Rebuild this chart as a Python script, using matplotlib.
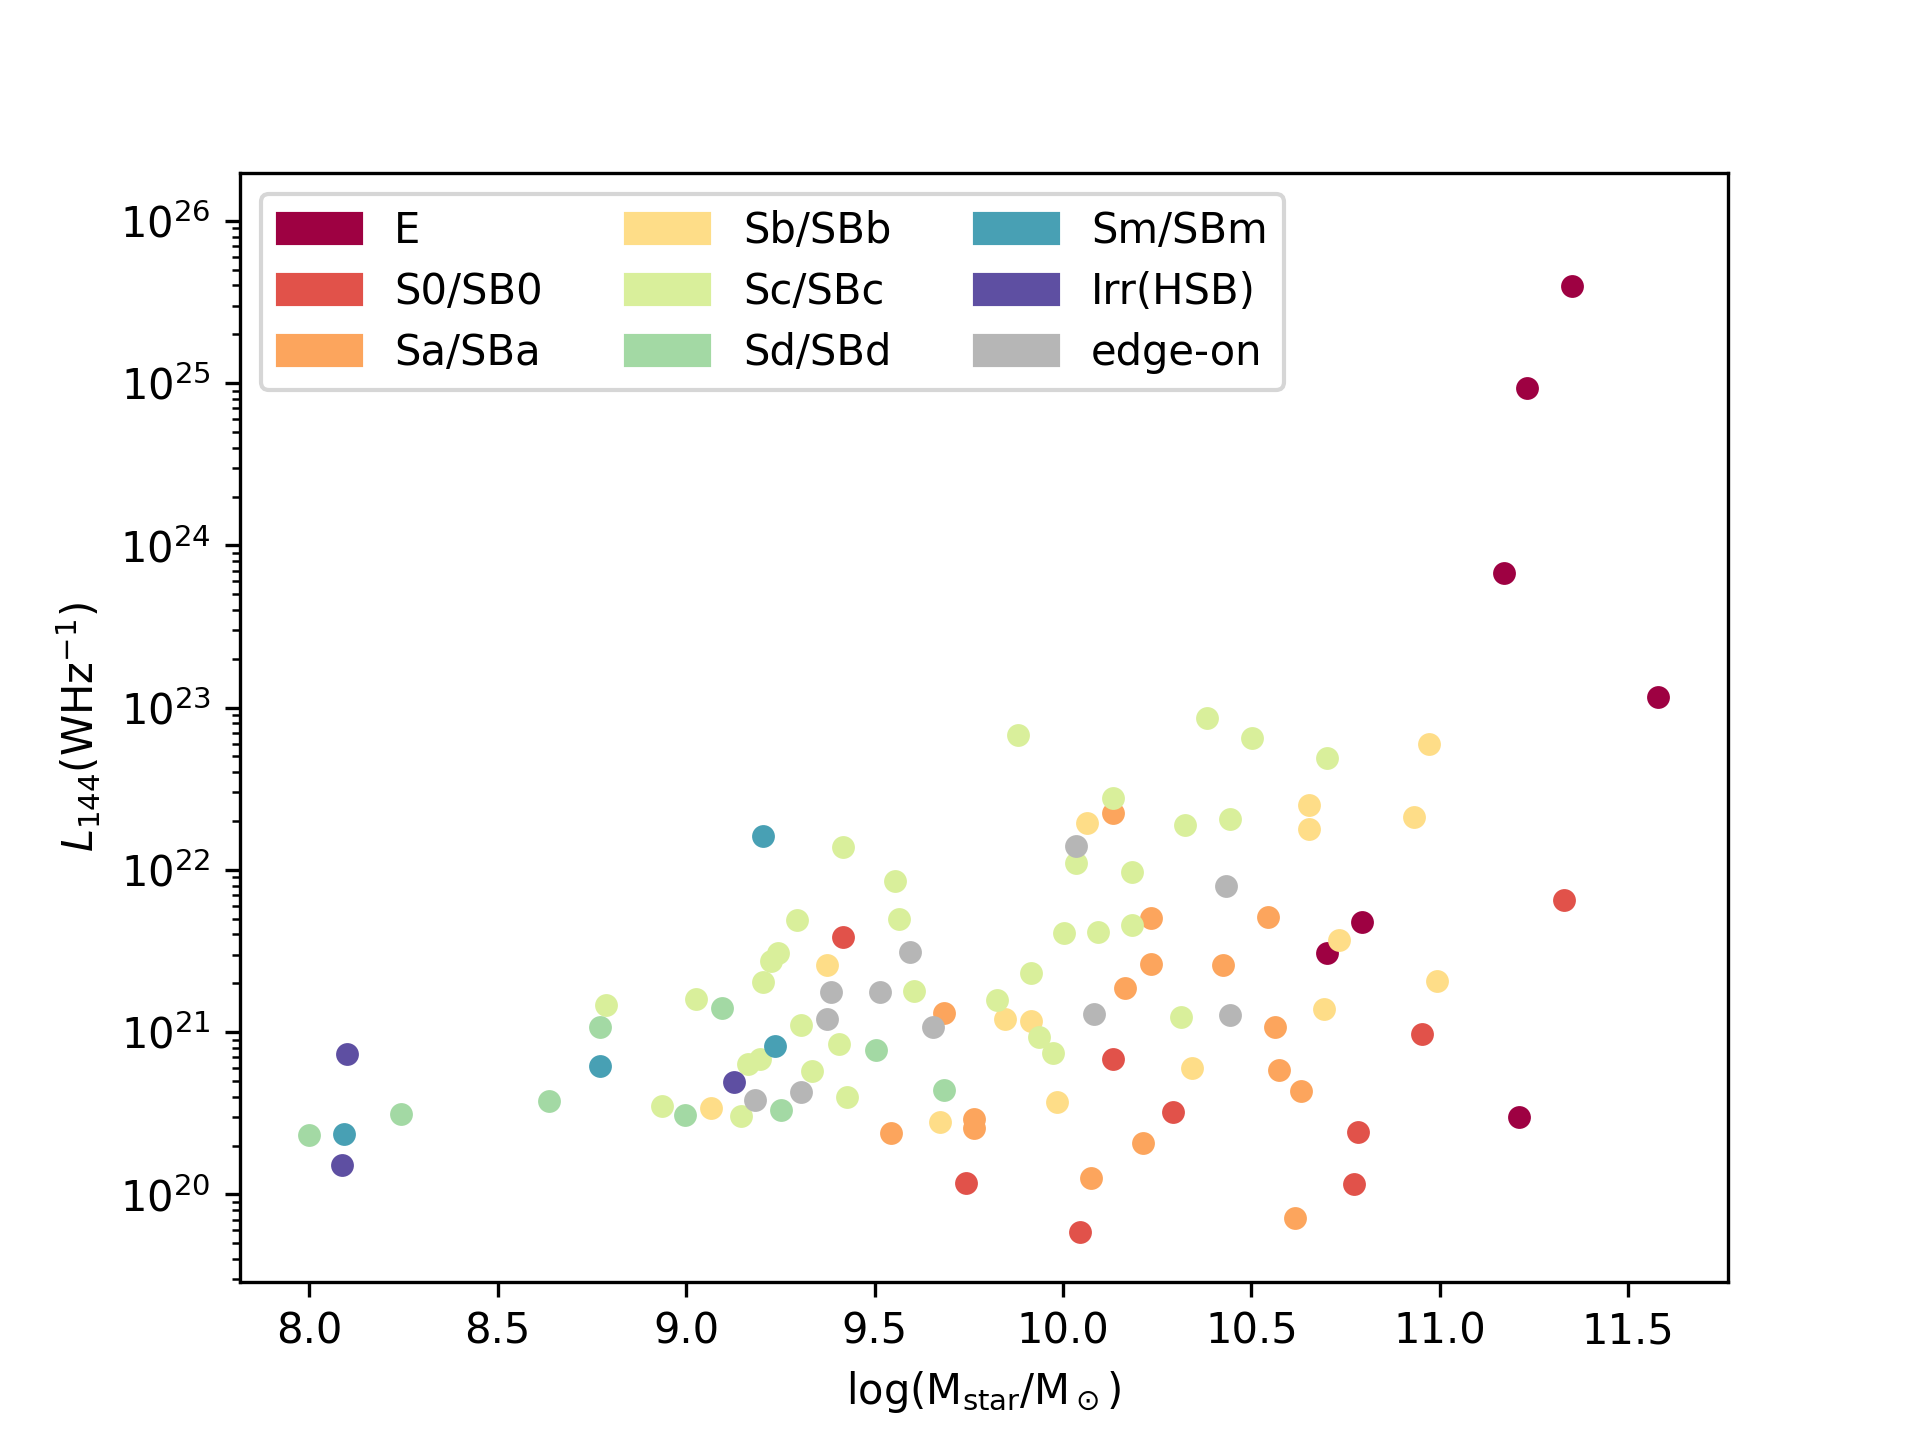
import matplotlib
matplotlib.use("Agg")
import matplotlib.pyplot as plt
from matplotlib.patches import Patch

categories = ["E", "S0/SB0", "Sa/SBa", "Sb/SBb", "Sc/SBc", "Sd/SBd", "Sm/SBm", "Irr(HSB)", "edge-on"]
colors = ["#9e0142", "#e1524a", "#fca55d", "#fedd88", "#d9ef9b", "#a3d9a4", "#48a0b4", "#5e4fa2", "#b6b6b6"]

E_x = [11.350, 11.231, 11.170, 11.580, 10.793, 10.702, 11.211]
E_y = [3.97e25, 9.38e24, 6.79e23, 1.16e23, 4.8e21, 3.09e21, 2.99e20]

S0_x = [9.415, 9.743, 10.134, 10.293, 10.782, 10.773, 10.044, 11.331, 10.952]
S0_y = [3.86e21, 1.18e20, 6.79e20, 3.2e20, 2.43e20, 1.16e20, 5.83e19, 6.49e21, 9.68e20]

Sa_x = [9.684, 9.765, 9.765, 9.545, 10.134, 10.234, 10.543, 10.234, 10.424, 10.164,
        10.563, 10.573, 10.632, 10.213, 10.074, 10.617]
Sa_y = [1.31e21, 2.9e20, 2.56e20, 2.39e20, 2.23e22, 5.06e21, 5.13e21, 2.64e21, 2.6e21, 1.88e21,
        1.08e21, 5.83e20, 4.33e20, 2.07e20, 1.27e20, 7.11e19]

Sb_x = [9.065, 9.374, 9.675, 10.063, 10.652, 10.652, 10.733, 9.845, 9.915, 10.692,
        10.343, 9.984, 10.932, 10.992, 10.971]
Sb_y = [3.42e20, 2.61e21, 2.79e20, 1.95e22, 2.52e22, 1.78e22, 3.72e21, 1.2e21, 1.17e21, 1.39e21,
        5.98e20, 3.72e20, 2.11e22, 2.07e21, 5.96e22]

Sc_x = [8.786, 8.935, 9.145, 9.427, 9.335, 9.164, 9.195, 9.304, 9.405, 9.604,
        9.205, 9.226, 9.245, 9.295, 9.025, 9.555, 9.564, 9.415, 10.134, 10.034,
        10.323, 10.443, 10.183, 10.004, 10.094, 10.183, 9.915, 9.824, 9.937, 9.974,
        10.313, 9.882, 10.382, 10.503, 10.702]
Sc_y = [1.47e21, 3.53e20, 3.03e20, 3.98e20, 5.8e20, 6.4e20, 6.83e20, 1.1e21, 8.5e20, 1.8e21,
        2.03e21, 2.76e21, 3.07e21, 4.89e21, 1.6e21, 8.57e21, 4.97e21, 1.39e22, 2.76e22, 1.1e22,
        1.88e22, 2.06e22, 9.76e21, 4.1e21, 4.16e21, 4.59e21, 2.31e21, 1.57e21, 9.33e20, 7.46e20,
        1.24e21, 6.78e22, 8.65e22, 6.52e22, 4.89e22]

Sd_x = [8.0, 8.243, 8.636, 8.772, 8.996, 9.252, 9.505, 9.096, 9.684]
Sd_y = [2.32e20, 3.12e20, 3.77e20, 1.08e21, 3.08e20, 3.31e20, 7.74e20, 1.4e21, 4.4e20]

Sm_x = [8.091, 8.772, 9.235, 9.205]
Sm_y = [2.37e20, 6.2e20, 8.17e20, 1.62e22]

Irr_x = [8.099, 8.088, 9.126]
Irr_y = [7.35e20, 1.52e20, 4.95e20]

edge_x = [9.182, 9.304, 9.374, 9.384, 9.514, 9.594, 9.655, 10.034, 10.433, 10.083, 10.443]
edge_y = [3.84e20, 4.26e20, 1.2e21, 1.78e21, 1.78e21, 3.14e21, 1.08e21, 1.4e22, 8.0e21, 1.3e21, 1.28e21]

xs = [E_x, S0_x, Sa_x, Sb_x, Sc_x, Sd_x, Sm_x, Irr_x, edge_x]
ys = [E_y, S0_y, Sa_y, Sb_y, Sc_y, Sd_y, Sm_y, Irr_y, edge_y]

fig, ax = plt.subplots(figsize=(6.4, 4.8), dpi=300)
for x, y, c in zip(xs, ys, colors):
    ax.scatter(x, y, s=30, color=c, linewidths=0)

ax.set_yscale("log")
ax.set_xlim(7.816, 11.765)
ax.set_ylim(2.9e19, 1.98e26)
ax.set_xlabel(r"log(M$_{\rm star}$/M$_\odot$)")
ax.set_ylabel(r"$L_{144} (\mathrm{WHz}^{-1})$")

handles = [Patch(color=c, label=l) for c, l in zip(colors, categories)]
ax.legend(handles=handles, ncol=3, loc="upper left", labelspacing=0.45)

fig.savefig("out.png", dpi=300)
